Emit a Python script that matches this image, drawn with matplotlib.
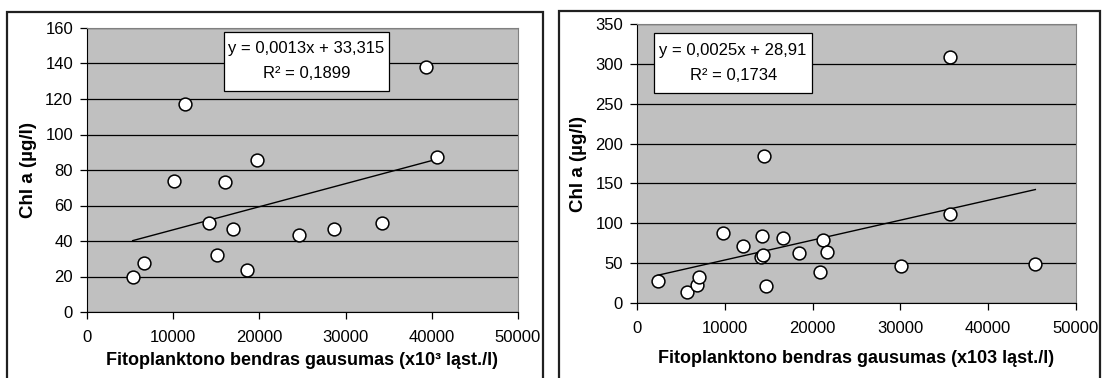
import numpy as np
import matplotlib
matplotlib.use("Agg")
import matplotlib.pyplot as plt
from matplotlib.patches import Rectangle

plt.rcParams['font.family'] = ['Liberation Sans', 'DejaVu Sans']

# left panel data
x1 = [5300, 6600, 10100, 11370, 14180, 15040, 16010, 16950, 18540, 19680,
      24650, 28650, 34190, 39280, 40590]
y1 = [19.7, 27.6, 73.7, 117.4, 49.9, 32.3, 73.0, 46.7, 23.8, 85.7,
      43.5, 46.7, 49.9, 138.3, 87.2]
slope1, icpt1 = 0.0013, 33.315
eq1 = ["y = 0,0013x + 33,315", "R² = 0,1899"]

# right panel data
x2 = [2420, 5640, 6840, 7090, 9740, 12040, 14170, 14330, 14290, 14490,
      14650, 16590, 18400, 20850, 21140, 21660, 30110, 35670, 35670, 45370]
y2 = [28.1, 14.3, 23.1, 32.3, 87.7, 71.3, 58.3, 60.8, 83.9, 183.8,
      21.0, 81.8, 62.1, 39.4, 78.5, 64.2, 46.2, 308.0, 111.2, 48.3]
slope2, icpt2 = 0.0025, 28.91
eq2 = ["y = 0,0025x + 28,91", "R² = 0,1734"]

W, H = 1103, 378
fig = plt.figure(figsize=(W / 100, H / 100), dpi=100)

# outer chart borders
for (l, r, t) in [(7, 543, 12), (559, 1100, 11)]:
    fig.patches.append(Rectangle((l / W, -0.05), (r - l) / W, 1.05 - t / H,
                                 transform=fig.transFigure, fill=False,
                                 edgecolor='#202020', linewidth=1.6))


def panel(rect, x, y, slope, icpt, eq, ymax, ystep, xlab, box, lines_y,
          xpad):
    ax = fig.add_axes(rect)
    ax.set_facecolor('#c0c0c0')
    ax.set_xlim(0, 50000)
    ax.set_ylim(0, ymax)
    ax.set_xticks(np.arange(0, 50001, 10000))
    ax.set_yticks(np.arange(0, ymax + 1, ystep))
    ax.yaxis.grid(True, color='black', linewidth=0.9)
    ax.set_axisbelow(True)
    for s in ['top', 'right']:
        ax.spines[s].set_color('#808080')
    for s in ['left', 'bottom']:
        ax.spines[s].set_color('black')
    ax.tick_params(direction='out', length=5, width=0.9, labelsize=12)
    ax.tick_params(axis='x', pad=8)
    ax.tick_params(axis='y', pad=5)
    xs = np.array([min(x), max(x)])
    ax.plot(xs, slope * xs + icpt, color='black', linewidth=1, zorder=2)
    ax.scatter(x, y, s=85, facecolor='white', edgecolor='black',
               linewidth=1.1, zorder=3)
    ax.set_xlabel(xlab, fontsize=13, fontweight='bold', labelpad=xpad)
    ax.set_ylabel("Chl a (µg/l)", fontsize=13.5, fontweight='bold',
                  labelpad=6)
    # regression equation box
    x0, x1_, y0, y1_ = box
    ax.add_patch(Rectangle((x0, y0), x1_ - x0, y1_ - y0,
                           transform=ax.transAxes, facecolor='white',
                           edgecolor='black', linewidth=0.9, zorder=4))
    xc = (x0 + x1_) / 2
    for txt, ty in zip(eq, lines_y):
        ax.text(xc, ty, txt, transform=ax.transAxes, ha='center',
                va='center', fontsize=12, zorder=5)
    return ax


panel([87 / W, 1 - 312 / H, 431 / W, 284 / H], x1, y1, slope1, icpt1, eq1,
      160, 20, "Fitoplanktono bendras gausumas (x10³ ląst./l)",
      (0.318, 0.701, 0.778, 0.986), (0.928, 0.840), 5)
panel([637 / W, 1 - 303 / H, 439 / W, 279 / H], x2, y2, slope2, icpt2, eq2,
      350, 50, "Fitoplanktono bendras gausumas (x103 ląst./l)",
      (0.039, 0.399, 0.753, 0.968), (0.905, 0.815), 10)

fig.savefig("out.png", dpi=100)
